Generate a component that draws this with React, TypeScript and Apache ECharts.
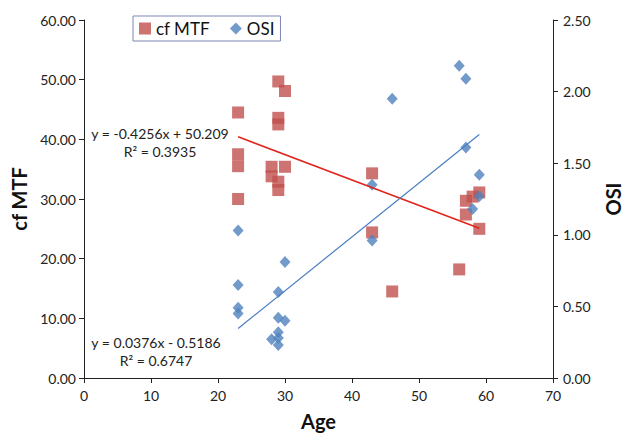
import React, { useEffect, useRef } from "react";
import * as echarts from "echarts";

const mtfAge = [23, 23, 23, 23, 28, 28, 29, 29, 29, 29, 29, 30, 30, 43, 43, 46, 56, 57, 57, 58, 59, 59];
const mtfVal = [44.5, 37.5, 35.5, 30.0, 35.4, 33.8, 49.7, 43.6, 42.5, 32.9, 31.5, 48.1, 35.4, 34.3, 24.4, 14.5, 18.2, 29.7, 27.4, 30.4, 31.1, 25.0];

const osiAge = [23, 23, 23, 23, 28, 29, 29, 29, 29, 29, 30, 30, 43, 43, 46, 56, 57, 57, 58, 59, 59];
const osiVal = [1.03, 0.65, 0.49, 0.45, 0.27, 0.60, 0.42, 0.32, 0.28, 0.23, 0.81, 0.40, 1.35, 0.96, 1.95, 2.18, 2.09, 1.61, 1.18, 1.42, 1.27];

const mtfFit = { slope: -0.4256, intercept: 50.209, r2: "0.3935", label: "y = -0.4256x + 50.209" };
const osiFit = { slope: 0.0376, intercept: -0.5186, r2: "0.6747", label: "y = 0.0376x - 0.5186" };
const fitRange = [23, 59];

const xTicks = { min: 0, max: 70, interval: 10 };
const leftTicks = { min: 0, max: 60, interval: 10 };
const rightTicks = { min: 0, max: 2.5, interval: 0.5 };

const FONT = "Lato, 'Open Sans', sans-serif";

export default function App() {
  const ref = useRef<HTMLDivElement>(null);
  useEffect(() => {
    const chart = echarts.init(ref.current!, null, { renderer: "svg" });
    const axisCommon = {
      type: "value",
      splitLine: { show: false },
      axisLine: { show: true, lineStyle: { color: "#222", width: 1 } },
      axisTick: { show: true, inside: false, length: 5, lineStyle: { color: "#222" } },
      axisLabel: { color: "#222", fontSize: 14, fontFamily: FONT },
      nameTextStyle: { color: "#111", fontSize: 20, fontWeight: "bold", fontFamily: FONT },
    };
    chart.setOption({
      animation: false,
      backgroundColor: "#fff",
      grid: { left: 84, right: 72, top: 20, bottom: 55, containLabel: false },
      legend: {
        data: [
          { name: "cf MTF", icon: "rect" },
          { name: "OSI", icon: "diamond" },
        ],
        left: 133,
        top: 16,
        padding: [4, 6, 4, 6],
        itemWidth: 12,
        itemHeight: 12,
        itemGap: 20,
        borderColor: "#7f86b5",
        borderWidth: 1,
        borderRadius: 0,
        backgroundColor: "#fff",
        textStyle: { fontSize: 17, color: "#111", fontFamily: FONT },
      },
      xAxis: {
        ...axisCommon,
        min: xTicks.min,
        max: xTicks.max,
        interval: xTicks.interval,
        axisLabel: { ...axisCommon.axisLabel, margin: 10 },
        name: "Age",
        nameLocation: "middle",
        nameGap: 33,
      },
      yAxis: [
        {
          ...axisCommon,
          position: "left",
          min: leftTicks.min,
          max: leftTicks.max,
          interval: leftTicks.interval,
          axisLabel: { ...axisCommon.axisLabel, margin: 8, formatter: (v: number) => v.toFixed(2) },
          name: "cf MTF",
          nameLocation: "middle",
          nameRotate: 90,
          nameGap: 52,
        },
        {
          ...axisCommon,
          position: "right",
          min: rightTicks.min,
          max: rightTicks.max,
          interval: rightTicks.interval,
          axisLabel: { ...axisCommon.axisLabel, margin: 10, formatter: (v: number) => v.toFixed(2) },
          name: "OSI",
          nameLocation: "middle",
          nameRotate: 90,
          nameGap: 50,
        },
      ],
      series: [
        {
          name: "cf MTF",
          type: "scatter",
          yAxisIndex: 0,
          symbol: "rect",
          symbolSize: 12,
          itemStyle: { color: "#C0504D" },
          data: mtfAge.map((a, i) => [a, mtfVal[i]]),
        },
        {
          name: "OSI",
          type: "scatter",
          yAxisIndex: 1,
          symbol: "diamond",
          symbolSize: [11, 12],
          itemStyle: { color: "#4F81BD" },
          data: osiAge.map((a, i) => [a, osiVal[i]]),
        },
        {
          name: "mtfTrend",
          type: "line",
          yAxisIndex: 0,
          symbol: "none",
          silent: true,
          lineStyle: { color: "#E2231A", width: 1.5 },
          data: fitRange.map((x) => [x, mtfFit.slope * x + mtfFit.intercept]),
        },
        {
          name: "osiTrend",
          type: "line",
          yAxisIndex: 1,
          symbol: "none",
          silent: true,
          lineStyle: { color: "#4A7EC1", width: 1.2 },
          data: fitRange.map((x) => [x, osiFit.slope * x + osiFit.intercept]),
        },
      ],
      graphic: [
        { type: "text", x: 160, y: 133, style: { text: mtfFit.label, font: `14px ${FONT}`, fill: "#222", textAlign: "center", textVerticalAlign: "middle" } },
        { type: "text", x: 160, y: 151, style: { text: "R² = " + mtfFit.r2, font: `14px ${FONT}`, fill: "#222", textAlign: "center", textVerticalAlign: "middle" } },
        { type: "text", x: 156, y: 342, style: { text: osiFit.label, font: `14px ${FONT}`, fill: "#222", textAlign: "center", textVerticalAlign: "middle" } },
        { type: "text", x: 156, y: 360, style: { text: "R² = " + osiFit.r2, font: `14px ${FONT}`, fill: "#222", textAlign: "center", textVerticalAlign: "middle" } },
      ],
    });
    return () => chart.dispose();
  }, []);
  return <div ref={ref} style={{ position: "fixed", left: 0, top: 0, width: 631, height: 436 }} />;
}
